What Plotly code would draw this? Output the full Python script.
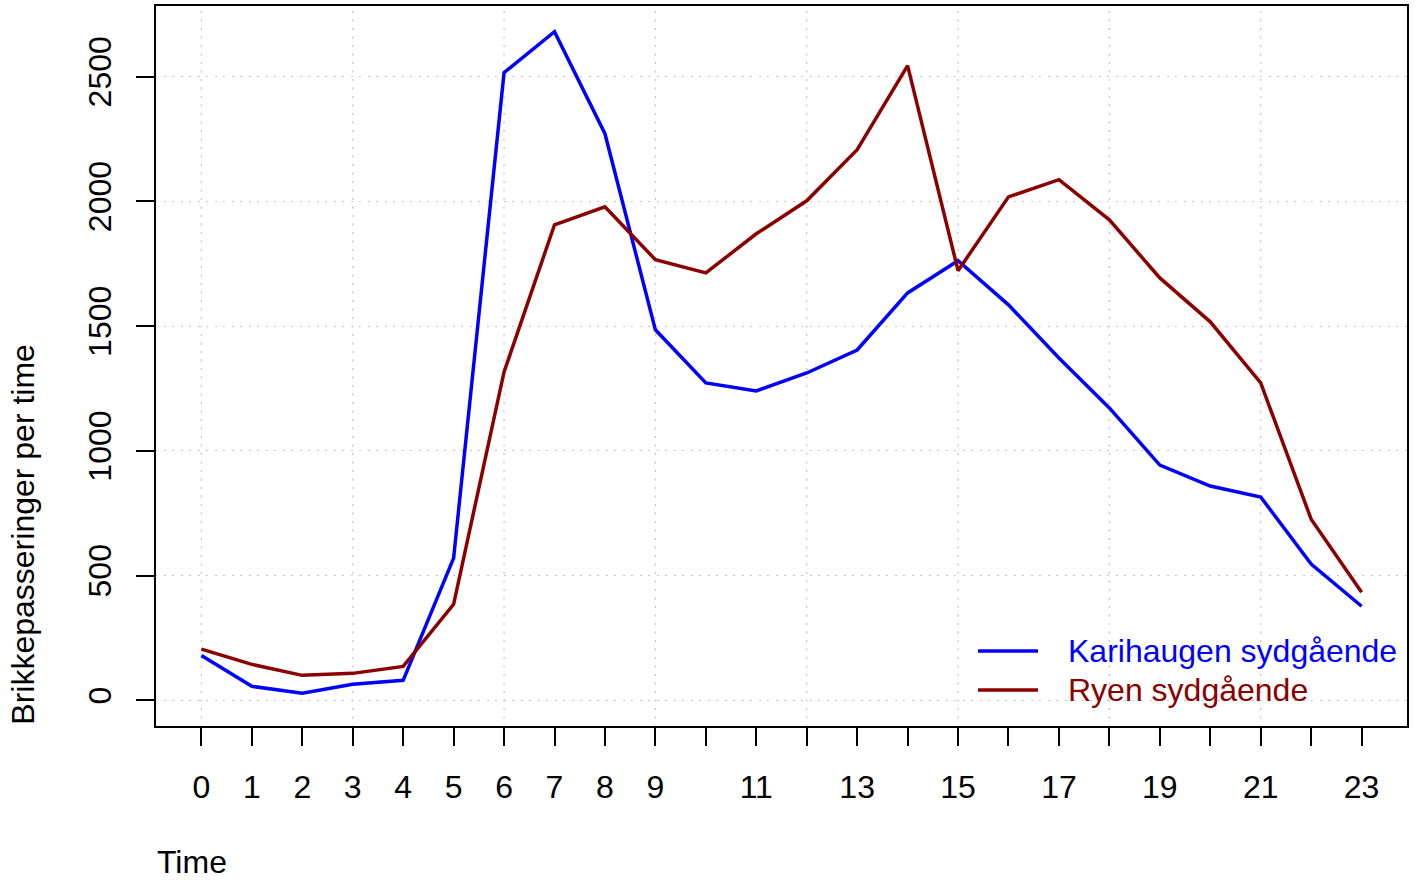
import plotly.graph_objects as go

hours = list(range(24))
karihaugen = [180, 56, 28, 64, 80, 570, 2516, 2680, 2271, 1485, 1272, 1240,
              1312, 1404, 1633, 1762, 1585, 1372, 1172, 943, 859, 815, 546, 377]
ryen = [205, 144, 100, 108, 136, 385, 1316, 1906, 1978, 1766, 1713, 1870,
        2002, 2207, 2544, 1722, 2018, 2087, 1926, 1693, 1517, 1272, 726, 433]
x_tick_labels = ["0", "1", "2", "3", "4", "5", "6", "7", "8", "9", "", "11", "",
                 "13", "", "15", "", "17", "", "19", "", "21", "", "23"]
y_ticks = [0, 500, 1000, 1500, 2000, 2500]
x_grid = [0, 3, 6, 9, 12, 15, 18, 21]
series_names = ["Karihaugen sydgående", "Ryen sydgående"]
series_colors = ["#0000FF", "#8B0000"]

FONT = "Liberation Sans, Arial, Helvetica, sans-serif"
FS = 32
GRID_DASH = "2px,6.5px"
GRID_COL = "#C8C8C8"

fig = go.Figure()
for name, vals, col in zip(series_names, [karihaugen, ryen], series_colors):
    fig.add_trace(go.Scatter(x=hours, y=vals, mode="lines", name=name,
                             line=dict(color=col, width=3.5), showlegend=False))

shapes = []
for gx in x_grid:
    shapes.append(dict(type="line", xref="x", yref="paper", x0=gx, x1=gx, y0=0, y1=1,
                       line=dict(color=GRID_COL, width=1.3, dash=GRID_DASH), layer="below"))
shapes.append(dict(type="rect", xref="paper", yref="paper", x0=0, x1=1, y0=0, y1=1,
                   line=dict(color="black", width=2), layer="above"))

# legend
leg_y = [0.1053, 0.0512]
annotations = []
for name, col, ly in zip(series_names, series_colors, leg_y):
    shapes.append(dict(type="line", xref="paper", yref="paper", x0=0.6568, x1=0.7047,
                       y0=ly, y1=ly, line=dict(color=col, width=3.5)))
    annotations.append(dict(xref="paper", yref="paper", x=0.7271, y=ly, text=name,
                            showarrow=False, xanchor="left", yanchor="middle",
                            font=dict(family=FONT, size=FS, color=col)))

annotations.append(dict(xref="paper", yref="paper", x=0, y=-0.187, text="Time",
                        showarrow=False, xanchor="left", yanchor="middle",
                        font=dict(family=FONT, size=FS, color="black")))
annotations.append(dict(xref="paper", yref="paper", x=-0.106, y=0.0, text="Brikkepasseringer per time",
                        showarrow=False, xanchor="center", yanchor="bottom", textangle=-90,
                        font=dict(family=FONT, size=FS, color="black")))

fig.update_layout(
    width=1418, height=882,
    margin=dict(l=155, r=10, t=5, b=155, autoexpand=False),
    paper_bgcolor="white", plot_bgcolor="white",
    font=dict(family=FONT, size=FS, color="black"),
    shapes=shapes, annotations=annotations,
    xaxis=dict(range=[-0.92, 23.92], tickmode="array", tickvals=hours, ticktext=x_tick_labels,
               ticks="outside", ticklen=18, tickwidth=1.5, tickcolor="black",
               showgrid=False, zeroline=False, showline=False, automargin=False,
               tickfont=dict(family=FONT, size=FS), ticklabelstandoff=14),
    yaxis=dict(range=[-107, 2787], tickmode="array", tickvals=y_ticks,
               ticks="outside", ticklen=18, tickwidth=1.5, tickcolor="black",
               showgrid=True, gridcolor=GRID_COL, griddash=GRID_DASH, gridwidth=1.3,
               zeroline=False, showline=False, tickangle=-90, automargin=False,
               tickfont=dict(family=FONT, size=FS), ticklabelstandoff=12),
)

fig.write_html("out.html", config={"displayModeBar": False},
               post_script="document.body.style.margin='0';document.body.style.overflow='hidden';")
